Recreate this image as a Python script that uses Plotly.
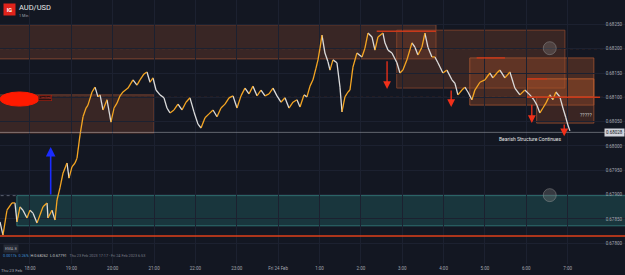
import pandas as pd
import plotly.graph_objects as go

# ---------------- data ----------------
START = "2023-02-23 17:00"
minutes = [16.5, 20.8, 26.6, 33.9, 38.2, 41.1, 45.5, 49.8, 55.6, 60.0, 64.4, 70.2, 74.5, 78.9, 84.7, 86.1, 91.9, 96.3,
           99.2, 103.5, 107.9, 113.7, 116.6, 120.9, 125.3, 128.2, 132.6, 136.9, 141.3, 144.1, 150.0, 154.3, 158.7,
           161.6, 165.9, 171.7, 177.5, 181.9, 186.2, 190.6, 194.9, 202.2, 209.4, 215.2, 219.6, 225.4, 229.7, 234.1,
           238.4, 242.8, 248.6, 254.4, 258.7, 263.1, 268.9, 274.7, 280.5, 286.3, 292.1, 297.9, 303.7, 308.1, 313.9,
           319.7, 325.5, 331.3, 337.1, 342.9, 348.7, 354.5, 360.3, 366.1, 371.9, 377.7, 383.5, 389.3, 395.1, 400.9,
           406.7, 412.5, 418.3, 424.1, 429.9, 435.7, 441.5, 447.3, 451.7, 457.5, 461.8, 466.2, 470.5, 474.9, 477.8,
           480.7, 483.6, 487.9, 492.3, 495.2, 499.5, 505.3, 509.7, 512.6, 516.9, 521.3, 524.2, 528.5, 534.3, 541.6,
           545.9, 550.3, 556.1, 560.4, 564.8, 572.0, 574.9, 579.3, 585.1, 592.3, 596.7, 601.0, 606.8, 614.1, 618.4,
           622.8, 628.6, 632.9, 637.3, 643.1, 647.4, 651.8, 659.0, 664.8, 672.1, 676.4, 680.8, 686.6, 690.9, 695.3,
           701.1, 705.4, 712.7, 719.9, 727.2, 731.5, 737.3, 741.7, 748.9, 756.2, 763.4, 770.7, 777.9, 785.2, 791.0,
           795.4, 799.7, 804.1, 808.4, 814.2, 818.6, 822.9, 828.7, 833.1, 837.4, 840.3, 843.2]
prices = [0.67844, 0.67817, 0.67868, 0.67883, 0.67883, 0.67844, 0.67875, 0.67868, 0.67852, 0.67868,
          0.67862, 0.67842, 0.67858, 0.67875, 0.67883, 0.67852, 0.67868, 0.67848, 0.67889, 0.67914,
          0.67944, 0.67965, 0.67934, 0.67957, 0.67965, 0.67975, 0.68023, 0.68060, 0.68078, 0.68084,
          0.68111, 0.68121, 0.68101, 0.68105, 0.68074, 0.68095, 0.68049, 0.68078, 0.68088, 0.68103,
          0.68111, 0.68119, 0.68136, 0.68125, 0.68136, 0.68148, 0.68152, 0.68131, 0.68140, 0.68115,
          0.68105, 0.68099, 0.68078, 0.68068, 0.68074, 0.68086, 0.68074, 0.68090, 0.68099, 0.68070,
          0.68045, 0.68037, 0.68058, 0.68066, 0.68074, 0.68060, 0.68078, 0.68086, 0.68099, 0.68103,
          0.68078, 0.68103, 0.68119, 0.68107, 0.68123, 0.68103, 0.68115, 0.68103, 0.68107, 0.68119,
          0.68103, 0.68090, 0.68099, 0.68078, 0.68090, 0.68095, 0.68080, 0.68105, 0.68101, 0.68123,
          0.68136, 0.68160, 0.68177, 0.68201, 0.68228, 0.68191, 0.68173, 0.68156, 0.68177, 0.68171,
          0.68121, 0.68070, 0.68101, 0.68111, 0.68115, 0.68162, 0.68191, 0.68183, 0.68201, 0.68232,
          0.68224, 0.68197, 0.68224, 0.68232, 0.68212, 0.68197, 0.68191, 0.68171, 0.68150, 0.68156,
          0.68177, 0.68212, 0.68203, 0.68187, 0.68203, 0.68232, 0.68203, 0.68183, 0.68183, 0.68171,
          0.68150, 0.68156, 0.68136, 0.68129, 0.68105, 0.68115, 0.68121, 0.68111, 0.68095, 0.68115,
          0.68131, 0.68136, 0.68150, 0.68140, 0.68150, 0.68156, 0.68140, 0.68152, 0.68119, 0.68105,
          0.68115, 0.68105, 0.68095, 0.68084, 0.68068, 0.68078, 0.68088, 0.68105, 0.68095, 0.68111,
          0.68101, 0.68078, 0.68058, 0.68043, 0.68031]

price_ticks = [0.67800, 0.67850, 0.67900, 0.67950, 0.68000, 0.68050, 0.68100, 0.68150, 0.68200, 0.68250]
hour_ticks = ["2023-02-23 18:00", "2023-02-23 19:00", "2023-02-23 20:00", "2023-02-23 21:00", "2023-02-23 22:00",
              "2023-02-23 23:00", "2023-02-24 00:00", "2023-02-24 01:00", "2023-02-24 02:00", "2023-02-24 03:00",
              "2023-02-24 04:00", "2023-02-24 05:00", "2023-02-24 06:00", "2023-02-24 07:00", "2023-02-24 08:00"]
hour_labels = ["18:00", "19:00", "20:00", "21:00", "22:00", "23:00", "Fri 24 Feb", "1:00", "2:00", "3:00",
               "4:00", "5:00", "6:00", "7:00", "8:00"]
last_price = 0.68028

# supply / demand zones: (start, end, low, high)
zone_top = ("2023-02-23 17:00", "2023-02-24 03:49", 0.68179, 0.68249)
zone_left = ("2023-02-23 17:00", "2023-02-23 21:00", 0.68027, 0.68105)
zone_a = ("2023-02-24 02:52", "2023-02-24 06:56", 0.68119, 0.68238)
zone_b = ("2023-02-24 04:38", "2023-02-24 07:38", 0.68084, 0.68181)
zone_c = ("2023-02-24 06:01", "2023-02-24 07:38", 0.68101, 0.68138)
zone_d = ("2023-02-24 06:15", "2023-02-24 07:38", 0.68047, 0.68101)
zone_demand = ("2023-02-23 17:41", "2023-02-24 09:00", 0.67836, 0.67898)
support_line = 0.67815
level_lines = [0.68200, 0.68100]

# arrows: (time, from price, to price)
red_arrows = [("2023-02-24 02:38", 0.68177, 0.68117),
              ("2023-02-24 04:11", 0.68117, 0.68080),
              ("2023-02-24 06:08", 0.68088, 0.68047),
              ("2023-02-24 06:55", 0.68047, 0.68020)]
blue_arrow = ("2023-02-23 18:30", 0.67897, 0.67998)
circle_marks_t = ["2023-02-24 06:34", "2023-02-24 06:34"]
circle_marks_p = [0.68201, 0.67899]

# ---------------- build ----------------
BG = "#131722"
GRID = "#1c2130"
TICK = "#a3a6af"

t0 = pd.Timestamp(START)
times = [t0 + pd.Timedelta(minutes=m) for m in minutes]

ux, uy, dx, dy = [], [], [], []
for i in range(1, min(len(times), len(prices))):
    if prices[i] >= prices[i - 1]:
        ux += [times[i - 1], times[i], None]
        uy += [prices[i - 1], prices[i], None]
    else:
        dx += [times[i - 1], times[i], None]
        dy += [prices[i - 1], prices[i], None]

fig = go.Figure()
fig.add_trace(go.Scatter(x=dx, y=dy, mode="lines", line=dict(color="#dcdcdc", width=1.3), hoverinfo="skip"))
fig.add_trace(go.Scatter(x=ux, y=uy, mode="lines", line=dict(color="#f5a623", width=1.3), hoverinfo="skip"))
fig.add_trace(go.Scatter(x=circle_marks_t, y=circle_marks_p, mode="markers",
                         marker=dict(size=13, color="rgba(120,120,120,0.35)",
                                     line=dict(color="rgba(150,150,150,0.45)", width=1)), hoverinfo="skip"))

shapes = []


def zone(z, fill, border, width=1):
    shapes.append(dict(type="rect", xref="x", yref="y", x0=z[0], x1=z[1], y0=z[2], y1=z[3],
                       fillcolor=fill, line=dict(color=border, width=width), layer="below"))


zone(zone_top, "rgba(120,62,42,0.38)", "rgba(140,75,50,0.8)")
zone(zone_left, "rgba(120,62,42,0.38)", "rgba(140,75,50,0.8)")
zone(zone_a, "rgba(130,65,40,0.35)", "rgba(150,75,45,0.7)")
zone(zone_b, "rgba(170,80,40,0.35)", "rgba(180,90,50,0.7)")
zone(zone_c, "rgba(190,90,40,0.35)", "rgba(200,100,50,0.8)")
zone(zone_d, "rgba(150,70,40,0.30)", "rgba(170,85,50,0.7)")
zone(zone_demand, "rgba(38,112,112,0.35)", "rgba(50,120,120,0.9)")

# dotted extension of demand zone top
shapes.append(dict(type="line", xref="x", yref="y", x0="2023-02-23 17:00", x1=zone_demand[0],
                   y0=zone_demand[3], y1=zone_demand[3], line=dict(color="#5b6270", width=1, dash="dot")))
for lv in level_lines:
    shapes.append(dict(type="line", xref="paper", yref="y", x0=0, x1=1, y0=lv, y1=lv,
                       line=dict(color="rgba(150,70,45,0.75)", width=1, dash="dot"), layer="below"))
# red top lines of zones
for (a, b, p) in [("2023-02-24 02:23", "2023-02-24 03:49", 0.68236),
                  ("2023-02-24 04:48", "2023-02-24 05:29", 0.68181),
                  ("2023-02-24 06:01", "2023-02-24 06:30", 0.68138),
                  ("2023-02-24 06:01", "2023-02-24 07:47", 0.68100)]:
    shapes.append(dict(type="line", xref="x", yref="y", x0=a, x1=b, y0=p, y1=p,
                       line=dict(color="#c8381a", width=1.5)))
# support line
shapes.append(dict(type="line", xref="paper", yref="y", x0=0, x1=1, y0=support_line, y1=support_line,
                   line=dict(color="#e0401a", width=1.5)))
# last price line
shapes.append(dict(type="line", xref="paper", yref="y", x0=0, x1=1, y0=last_price, y1=last_price,
                   line=dict(color="rgba(150,153,162,0.6)", width=1)))
# red ellipse
shapes.append(dict(type="circle", xref="x", yref="y", x0="2023-02-23 17:16:30", x1="2023-02-23 18:13",
                   y0=0.68082, y1=0.68111, fillcolor="#ff1a00", line=dict(color="#ff1a00", width=1)))

ann = []
for (t, p0, p1) in red_arrows:
    ann.append(dict(x=t, y=p1, ax=t, ay=p0, xref="x", yref="y", axref="x", ayref="y", text="",
                    showarrow=True, arrowhead=2, arrowsize=1.2, arrowwidth=1.3, arrowcolor="#f0301a"))
ann.append(dict(x=blue_arrow[0], y=blue_arrow[2], ax=blue_arrow[0], ay=blue_arrow[1], xref="x", yref="y",
                axref="x", ayref="y", text="", showarrow=True, arrowhead=2, arrowsize=1.2, arrowwidth=1.6,
                arrowcolor="#1a2cff"))

ann += [
    dict(x="2023-02-24 06:05", y=0.68014, xref="x", yref="y", text="Bearish Structure Continues",
         showarrow=False, font=dict(size=5, color="#e6e6e6", family="Roboto")),
    dict(x=0.9505, y=0.68064, xref="paper", yref="y", text="?????", showarrow=False,
         font=dict(size=5, color="#d0d0d0", family="Roboto")),
    dict(x=1.0, y=last_price, xref="paper", yref="y", xanchor="right", text=f"{last_price:.5f}", showarrow=False,
         bgcolor="#d1d4dc", font=dict(size=4.5, color="#131722", family="Roboto"), borderpad=1),
    dict(x="2023-02-23 18:22", y=0.68098, xref="x", yref="y", text="Limited", showarrow=False,
         bgcolor="#2a1212", bordercolor="#b02010", borderwidth=0.6, borderpad=0.5,
         font=dict(size=3.5, color="#d04030", family="Roboto")),
    dict(x=0.0048, y=0.988, xref="paper", yref="paper", xanchor="left", yanchor="top", text="<b>IG</b>",
         showarrow=False, bgcolor="#e0231b", width=11, height=11, borderpad=0,
         font=dict(size=5.5, color="white", family="Roboto")),
    dict(x=0.0285, y=0.992, xref="paper", yref="paper", xanchor="left", yanchor="top", text="AUD/USD",
         showarrow=False, borderpad=0, font=dict(size=7.5, color="#e8e8e8", family="Roboto")),
    dict(x=0.0285, y=0.956, xref="paper", yref="paper", xanchor="left", yanchor="top", text="1 Min",
         showarrow=False, borderpad=0, font=dict(size=3.8, color="#a0a3ab", family="Roboto")),
    dict(x=0.004, y=0.042, xref="paper", yref="paper", xanchor="left", text="EMA 8", showarrow=False,
         bgcolor="#262b36", font=dict(size=4, color="#a0a3ab", family="Roboto")),
    dict(x=0.002, y=0.015, xref="paper", yref="paper", xanchor="left",
         text="<span style='color:#3d8fd8'>0.0017k</span>  <span style='color:#3d8fd8'>0.26%</span>  "
              "H:0.68262  L:0.67791   <span style='color:#787b86'>Thu 23 Feb 2023 17:17 - Fri 24 Feb 2023 6:53</span>",
         showarrow=False, font=dict(size=3.8, color="#c8c8c8", family="Roboto")),
    dict(x=0.0, y=-0.012, xref="paper", yref="paper", xanchor="left", yanchor="top", text="Thu 23 Feb",
         showarrow=False, borderpad=0, font=dict(size=4.3, color=TICK, family="Roboto")),
]

fig.update_layout(
    width=625, height=275, margin=dict(l=0, r=0, t=0, b=11),
    paper_bgcolor=BG, plot_bgcolor=BG, showlegend=False,
    shapes=shapes, annotations=ann,
    xaxis=dict(range=["2023-02-23 17:16:30", "2023-02-24 08:23:10"], tickvals=hour_ticks, ticktext=hour_labels,
               showgrid=True, gridcolor=GRID, gridwidth=1, zeroline=False, showline=False, ticks="",
               tickfont=dict(size=4.5, color=TICK, family="Roboto"), fixedrange=True),
    yaxis=dict(range=[0.677575, 0.683], side="right", ticklabelposition="inside", tickvals=price_ticks,
               ticktext=[f"{v:.5f}" for v in price_ticks], showgrid=True, gridcolor=GRID, zeroline=False,
               showline=False, ticks="", tickfont=dict(size=4.5, color=TICK, family="Roboto"), fixedrange=True),
)

fig.write_html("out.html")
